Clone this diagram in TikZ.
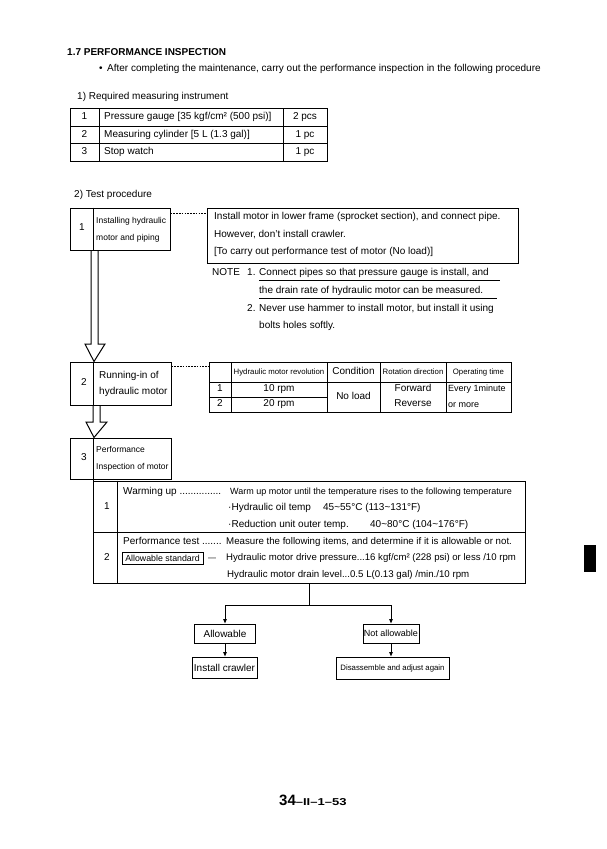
\documentclass[tikz,border=0pt]{standalone}
\usepackage{fontspec}
\setmainfont{Liberation Sans}
\usepackage{graphicx}
\usetikzlibrary{arrows.meta}

\newcommand{\fsz}[1]{\fontsize{#1}{#1}\selectfont}
\newcommand{\tld}{\textasciitilde}

\begin{document}
\begin{tikzpicture}[x=1pt,y=-1pt,
  every node/.style={inner sep=0pt},
  tx/.style={anchor=mid west,font=\fsz{10}},
  tc/.style={anchor=mid,font=\fsz{10}},
  box/.style={draw,line width=1pt},
  rl/.style={line width=1pt},
  dashln/.style={line width=0.7pt,dash pattern=on 1.6pt off 1.2pt},
  tip/.style={line width=1pt,-{Triangle[length=4.5pt,width=3.5pt]}}
]
\useasboundingbox (0,0) rectangle (606,849);
%
\node[tx,font=\fsz{10}\bfseries] (hd) at (67,53) {1.7 PERFORMANCE INSPECTION};
\node[tx] (bl) at (99,69) {•};
\node[tx] (intro) at (107,69) {After completing the maintenance, carry out the performance inspection in the following procedure};
\node[tx] (rq) at (77,97) {1) Required measuring instrument};
%
\draw[rl] (70,108) rectangle (327,161);
\draw[rl] (99,108) -- (99,161) (283,108) -- (283,161) (70,126) -- (327,126) (70,143) -- (327,143);
\foreach \n/\y/\what/\qty in {1/117/{Pressure gauge [35 kgf/cm² (500 psi)]}/{2 pcs},
    2/134.5/{Measuring cylinder [5 L (1.3 gal)]}/{1 pc}, 3/152/{Stop watch}/{1 pc}}{
  \node[tc] (in\n) at (84.5,\y) {\n};
  \node[tx] (it\n) at (104,\y) {\what};
  \node[tc] (iq\n) at (305,\y) {\qty};
}
%
\node[tx] (tp) at (74,195) {2) Test procedure};
%
\node[box,minimum width=100pt,minimum height=42pt] (b1) at (120,229) {};
\node[box,minimum width=101pt,minimum height=43pt] (b2) at (120.5,383.5) {};
\node[box,minimum width=101pt,minimum height=41pt] (b3) at (120.5,458.5) {};
\node[box,minimum width=311pt,minimum height=55pt] (d1) at (362.5,235.5) {};
\node[box,minimum width=302pt,minimum height=50pt] (t2) at (360,387) {};
\node[box,minimum width=432pt,minimum height=102pt] (wt) at (309,532) {};
%
\draw[rl] (93,0 |- b1.north) -- (93,0 |- b1.south);
\draw[rl] (93,0 |- b2.north) -- (93,0 |- b2.south);
\draw[rl] (93,0 |- b3.north) -- (93,0 |- wt.north);
%
\node[tc] (n1) at (82,228) {1};
\node[tx,font=\fsz{8.5}] (s1a) at (96,221) {Installing hydraulic};
\node[tx,font=\fsz{8.5}] (s1b) at (96,238) {motor and piping};
\node[tc] (n2) at (84,383) {2};
\node[tx] (s2a) at (99,376) {Running-in of};
\node[tx] (s2b) at (99,392) {hydraulic motor};
\node[tc] (n3) at (84,458) {3};
\node[tx,font=\fsz{8.5}] (s3a) at (96,450) {Performance};
\node[tx,font=\fsz{8.5}] (s3b) at (96,467) {Inspection of motor};
%
\draw[dashln] (b1.east |- 0,213) -- (d1.west |- 0,213);
\draw[dashln] (b2.east |- 0,366) -- (t2.west |- 0,366);
%
\draw[rl] (91,0 |- b1.south) -- (91,344) -- (85,344) -- (94,0 |- b2.north) -- (105,344) -- (98,344) -- (98,0 |- b1.south);
\draw[rl] (93,0 |- b2.south) -- (93,422) -- (86,422) -- (94,0 |- b3.north) -- (107,422) -- (100,422) -- (100,0 |- b2.south);
%
\node[tx] (d1a) at (214,217) {Install motor in lower frame (sprocket section), and connect pipe.};
\node[tx] (d1b) at (214,234.5) {However, don't install crawler.};
\node[tx] (d1c) at (214,252) {[To carry out performance test of motor (No load)]};
%
\node[tx] (nt) at (212,273) {NOTE};
\node[tx] (nt1) at (247,273) {1. Connect pipes so that pressure gauge is install, and};
\node[tx] (nt2) at (259,291) {the drain rate of hydraulic motor can be measured.};
\node[tx] (nt3) at (247,309) {2. Never use hammer to install motor, but install it using};
\node[tx] (nt4) at (259,326) {bolts holes softly.};
\draw[line width=0.7pt] (259,280.5) -- (500,280.5) (259,298.5) -- (497,298.5);
%
\draw[rl] (231,362) -- (231,412) (327,362) -- (327,412) (380,362) -- (380,412) (446,362) -- (446,412);
\draw[rl] (209,382) -- (511,382) (209,397) -- (327,397);
\node[tc,font=\fsz{7.8}] (h1) at (279,372) {Hydraulic motor revolution};
\node[tc] (h2) at (353.5,372) {Condition};
\node[tc,font=\fsz{7.8}] (h3) at (413,372) {Rotation direction};
\node[tc,font=\fsz{7.8}] (h4) at (478.5,372) {Operating time};
\node[tc] (r1n) at (220,389) {1};
\node[tc] (r1v) at (279,389) {10 rpm};
\node[tc] (r2n) at (220,404) {2};
\node[tc] (r2v) at (279,404) {20 rpm};
\node[tc] (cnd) at (353.5,396.5) {No load};
\node[tc] (fw) at (413,388.5) {Forward};
\node[tc] (rv) at (413,404) {Reverse};
\node[tx,font=\fsz{9}] (op1) at (448,388.5) {Every 1minute};
\node[tx,font=\fsz{9}] (op2) at (448,404.5) {or more};
%
\draw[rl] (117,0 |- wt.north) -- (117,0 |- wt.south);
\draw[rl] (93,532) -- (525,532);
\node[tc] (w1) at (107,507) {1};
\node[tx] (w1a) at (123,492) {Warming up ...............};
\node[tx,font=\fsz{9}] (w1b) at (230,492) {Warm up motor until the temperature rises to the following temperature};
\node[tx] (w1c) at (228,508) {\makebox[95pt][l]{·Hydraulic oil temp}45\tld55°C (113\tld131°F)};
\node[tx] (w1d) at (228,525) {\makebox[142pt][l]{·Reduction unit outer temp.}40\tld80°C (104\tld176°F)};
\node[tc] (w2) at (107,558) {2};
\node[tx] (w2a) at (123,542) {Performance test .......};
\node[tx,font=\fsz{9.7}] (w2b) at (226,542) {Measure the following items, and determine if it is allowable or not.};
\node[draw,line width=0.7pt,font=\fsz{8.8},minimum width=81pt,minimum height=11.5pt] (as) at (162.5,558.5) {Allowable standard};
\node[tc,font=\fsz{8}] (dsh) at (212,558) {—};
\node[tx,font=\fsz{9.6}] (w2c) at (226,558) {Hydraulic motor drive pressure...16 kgf/cm² (228 psi) or less /10 rpm};
\node[tx,font=\fsz{9.7}] (w2d) at (227,575) {Hydraulic motor drain level...0.5 L(0.13 gal) /min./10 rpm};
%
\node[box,minimum width=61pt,minimum height=19pt,font=\fsz{10}] (ok) at (225,633.5) {Allowable};
\node[box,minimum width=56pt,minimum height=19pt,font=\fsz{9}] (ng) at (391,633.5) {Not allowable};
\node[box,minimum width=65pt,minimum height=21pt,font=\fsz{10}] (ic) at (224.5,667.5) {Install crawler};
\node[box,minimum width=113pt,minimum height=22pt,font=\fsz{7.8}] (da) at (392.5,668) {Disassemble and adjust again};
%
\coordinate (br) at (309,605);
\draw[rl] (wt.south) -- (br);
\draw[tip] (br) -| (ok.north);
\draw[tip] (br) -| (ng.north);
\draw[tip] (ok.south) -- (ok.south |- ic.north);
\draw[tip] (ng.south) -- (ng.south |- da.north);
%
\node[anchor=mid west,font=\bfseries] (pg) at (279,803) {\fsz{15}34\fsz{10}\scalebox{1.3}[1]{–II–1–53}};
\fill (584,545) rectangle (596,572);
\end{tikzpicture}
\end{document}
